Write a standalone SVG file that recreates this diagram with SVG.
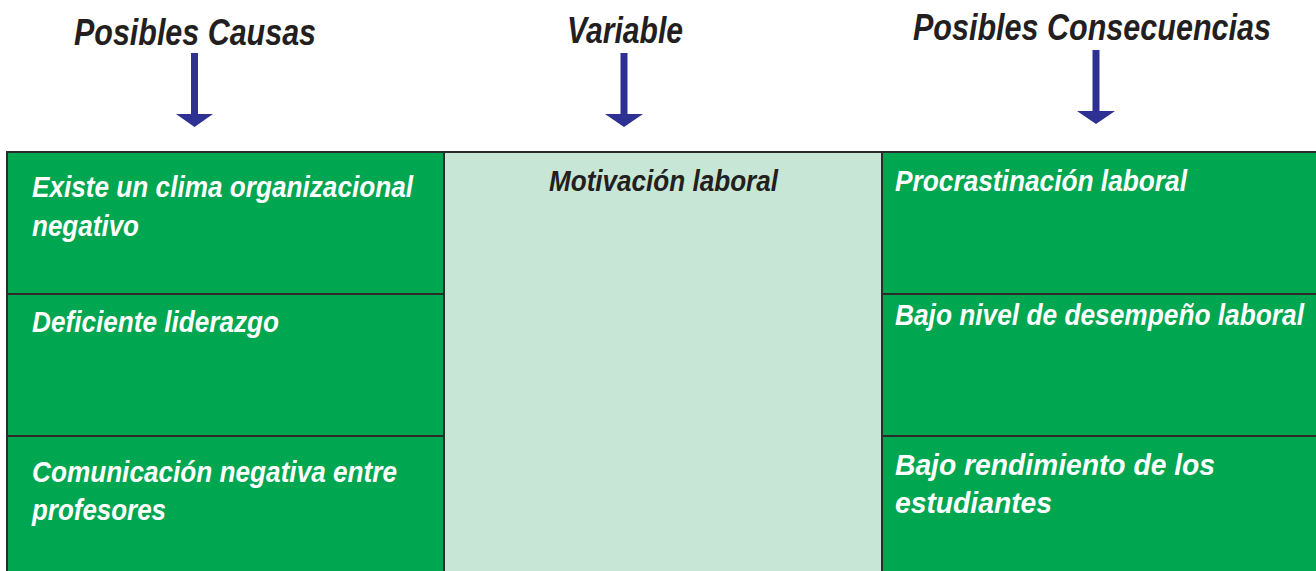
<svg xmlns="http://www.w3.org/2000/svg" width="1316" height="571" viewBox="0 0 1316 571">
<style>
.title{font-family:"Liberation Sans",Arial,sans-serif;font-weight:bold;font-style:italic;font-size:36px;fill:#231f20}
.cell{stroke:#2b2b2b;stroke-width:2}
.g{fill:#00a650}
.lg{fill:#c8e6d5}
.t{font-family:"Liberation Sans",Arial,sans-serif;font-weight:bold;font-style:italic;font-size:30px;fill:#ffffff}
.td{fill:#231f20}
.shaft{stroke:#2e3192;stroke-width:7;fill:none}
.head{fill:#2e3192}
</style>
<rect width="1316" height="571" fill="#ffffff"/>
<g id="titles">
<text class="title" x="74" y="45" textLength="242" lengthAdjust="spacingAndGlyphs">Posibles Causas</text>
<text class="title" x="567" y="43" textLength="116" lengthAdjust="spacingAndGlyphs">Variable</text>
<text class="title" x="913" y="40" textLength="358" lengthAdjust="spacingAndGlyphs">Posibles Consecuencias</text>
</g>
<g id="connectors">
<line class="shaft" x1="194.5" y1="53" x2="194.5" y2="116"/>
<polygon class="head" points="176,114 213,114 194.5,127"/>
<line class="shaft" x1="624" y1="53" x2="624" y2="116"/>
<polygon class="head" points="605,114 643,114 624,127"/>
<line class="shaft" x1="1096" y1="50" x2="1096" y2="113"/>
<polygon class="head" points="1077,111 1115,111 1096,124"/>
</g>
<g id="variable">
<rect class="cell lg" x="444" y="152" width="438" height="430"/>
<text class="t td" x="549" y="191" textLength="229" lengthAdjust="spacingAndGlyphs">Motivación laboral</text>
</g>
<g id="causa1">
<rect class="cell g" x="7" y="152" width="437" height="142"/>
<text class="t" x="32" y="197" textLength="381" lengthAdjust="spacingAndGlyphs">Existe un clima organizacional</text>
<text class="t" x="32" y="236" textLength="107" lengthAdjust="spacingAndGlyphs">negativo</text>
</g>
<g id="causa2">
<rect class="cell g" x="7" y="294" width="437" height="142"/>
<text class="t" x="32" y="332" textLength="247" lengthAdjust="spacingAndGlyphs">Deficiente liderazgo</text>
</g>
<g id="causa3">
<rect class="cell g" x="7" y="436" width="437" height="146"/>
<text class="t" x="32" y="482" textLength="365" lengthAdjust="spacingAndGlyphs">Comunicación negativa entre</text>
<text class="t" x="32" y="520" textLength="134" lengthAdjust="spacingAndGlyphs">profesores</text>
</g>
<g id="consecuencia1">
<rect class="cell g" x="882" y="152" width="440" height="142"/>
<text class="t" x="895" y="191" textLength="292" lengthAdjust="spacingAndGlyphs">Procrastinación laboral</text>
</g>
<g id="consecuencia2">
<rect class="cell g" x="882" y="294" width="440" height="142"/>
<text class="t" x="895" y="325" textLength="409" lengthAdjust="spacingAndGlyphs">Bajo nivel de desempeño laboral</text>
</g>
<g id="consecuencia3">
<rect class="cell g" x="882" y="436" width="440" height="146"/>
<text class="t" x="895" y="475" textLength="320" lengthAdjust="spacingAndGlyphs">Bajo rendimiento de los</text>
<text class="t" x="895" y="513" textLength="157" lengthAdjust="spacingAndGlyphs">estudiantes</text>
</g>
</svg>
